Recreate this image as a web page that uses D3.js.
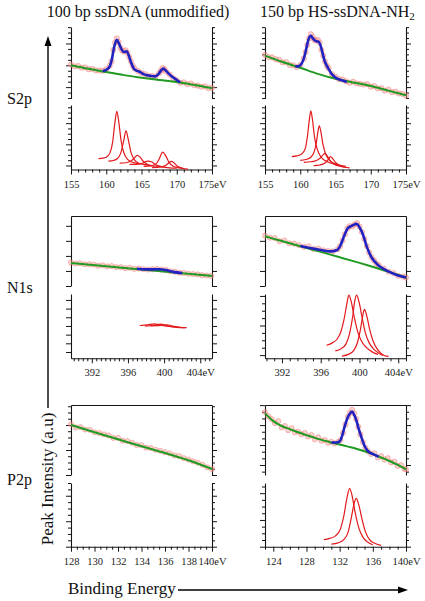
<!DOCTYPE html>
<html><head><meta charset="utf-8">
<script src="https://cdn.jsdelivr.net/npm/d3@7"></script>
<style>body{margin:0;background:#fff}svg{display:block}</style>
</head><body>
<svg id="c" width="425" height="601"></svg>
<script>
// ---------------- DATA ----------------
const columnTitles = ["100 bp ssDNA (unmodified)", "150 bp HS-ssDNA-NH"];
const titleSub = "2";
const rowLabels = ["S2p", "N1s", "P2p"];
const yAxisTitle = "Peak Intensity (a.u)";
const xAxisTitle = "Binding Energy";
const unit = "eV";

const s2pDomainA = [155, 175], s2pDomainB = [155, 175];
const s2pTicks = [155, 160, 165, 170, 175];
const n1sDomainA = [389.7, 405.3], n1sDomainB = [390.25, 404.8];
const n1sTicks = [392, 396, 400, 404];
const p2pDomainA = [128, 140], p2pDomainB = [123, 140];
const p2pTicksA = [128, 130, 132, 134, 136, 138, 140];
const p2pTicksB = [124, 128, 132, 136, 140];

// S2p, 100 bp
const s2pA_scatter = [[155,47.5],[155.5,45],[156,45.5],[156.5,43],[157,43.5],[157.5,41],[158,41.5],[158.5,39.5],[159,39],[159.5,39],[160,41],[160.5,46],[160.75,52],[161,68],[161.25,78],[161.5,84],[161.75,79],[162,71],[162.25,67],[162.5,66],[162.75,67.5],[163,64],[163.25,58],[163.5,52],[163.75,46],[164,42],[164.5,38.5],[165,35.5],[165.5,34],[166,31.5],[166.5,31.5],[167,30.5],[167.5,35.5],[167.75,39],[168,42.5],[168.25,41],[168.5,37.5],[169,33.5],[169.5,28.5],[170,25.5],[170.5,22],[171,22.5],[171.5,20],[172,21],[172.5,18.5],[173,18],[173.5,16.5],[174,17],[174.5,14.5],[175,15]];
const s2pA_fit = [[159.5,38.5],[160,40],[160.5,45],[160.8,55],[161.1,71],[161.5,82],[161.8,77],[162.1,70],[162.5,65],[162.9,66],[163.2,60],[163.5,51],[163.9,42],[164.4,38.5],[164.8,37],[165.3,34],[165.8,32.5],[166.4,31.5],[167,31],[167.4,34],[167.8,39.5],[168.1,41.8],[168.5,38.5],[168.9,34.5],[169.4,30],[169.8,27.5],[170.2,24.5],[170.5,22.5]];
const s2pA_bg = [[155,46.5],[157.5,41.5],[160,37],[162.5,32.7],[165,29],[167.5,25.8],[170,23],[172.5,19],[175,14.5]];
const s2pA_comps = [
  [[158.9,17],[159.5,17.5],[160,19],[160.5,25],[160.9,42],[161.2,70],[161.5,90],[161.8,72],[162.1,45],[162.5,26],[163,16],[163.5,12],[164.2,10],[165,8.5]],
  [[160.3,13],[161,14],[161.6,17],[162.1,27],[162.5,46],[162.8,60],[163.1,48],[163.5,27],[164,15],[164.6,10],[165.5,7.5],[166.5,6]],
  [[161.9,10],[162.8,10.5],[163.5,13],[164,18],[164.4,22],[164.8,19],[165.3,12],[166,7],[167,5],[168,4]],
  [[163.3,7.8],[164.3,8],[165.2,10],[165.7,12.5],[166,13],[166.4,12],[167,7.5],[167.8,4.5],[169,2.5],[170,2]],
  [[165.3,4.7],[166.3,5.5],[167,8],[167.5,16],[168,27],[168.4,22],[168.9,11],[169.5,5],[170.3,2.5],[171,1.5]],
  [[166.5,3],[167.5,3.5],[168.4,6],[168.9,10.5],[169.2,12.5],[169.6,10.5],[170.1,5],[170.8,2],[171.6,0.5]]
];

// S2p, 150 bp
const s2pB_scatter = [[155,61],[155.5,58],[156,57.5],[156.5,55],[157,54],[157.5,50.5],[158,51],[158.5,47],[159,46.5],[159.5,44],[160,47],[160.5,56],[160.75,65],[161,75],[161.25,84],[161.5,90],[161.75,86],[162,82],[162.25,81],[162.5,82],[162.75,78],[163,68],[163.25,60],[163.5,52],[163.75,46],[164,42.5],[164.5,34],[165,30.5],[165.5,27],[166,26.5],[166.5,24],[167,22],[167.5,23.5],[168,21],[168.5,20.5],[169,19.5],[169.5,20],[170,16.5],[170.5,17.5],[171,14],[171.5,14.5],[172,11],[172.5,12.5],[173,9],[173.5,9.5],[174,7],[174.5,6.5],[175,4]];
const s2pB_fit = [[159.3,45],[159.7,45],[160,46.5],[160.4,53],[160.7,63],[160.95,74],[161.15,82],[161.5,87.7],[161.8,84],[162,81.7],[162.3,80],[162.6,79.5],[162.85,75],[163.1,66],[163.4,54.5],[163.7,47],[164,41.8],[164.4,35],[164.9,30],[165.4,27],[165.9,25.4],[166.6,23]];
const s2pB_bg = [[155,60],[157.5,51],[160,43],[162.5,34.5],[165,27.5],[167.5,22.5],[170,17.5],[172.5,11],[175,4.5]];
const s2pB_comps = [
  [[158.8,20],[159.5,21],[160.2,24],[160.7,32],[161,50],[161.3,78],[161.5,91],[161.75,76],[162,52],[162.4,32],[162.9,20],[163.5,14],[164.3,10],[165.2,7.5]],
  [[160,14],[160.8,15.5],[161.5,19],[162,28],[162.3,43],[162.5,58],[162.7,67.7],[162.95,57],[163.2,40],[163.6,24],[164.1,15],[164.8,9.5],[165.7,6.5],[166.5,5]],
  [[160.5,11],[161.5,12],[162.3,14],[162.9,18.5],[163.3,23.5],[163.5,25],[163.8,21.5],[164.2,14],[164.8,8],[165.6,5],[166.5,3.5]],
  [[161.9,6],[162.8,7],[163.5,10],[164,16],[164.3,20],[164.6,17],[165,11],[165.6,6],[166.3,3.5],[167,2.5]]
];

// N1s, 100 bp
const n1sA_scatter = [[389.7,33.5],[390.2,32],[390.7,32.5],[391.2,31],[391.7,31],[392.2,30.5],[392.7,29],[393.2,29.5],[393.7,28],[394.2,28.5],[394.7,27],[395.2,27],[395.7,25.5],[396.2,26],[396.7,24.5],[397.2,25],[397.7,24],[398.2,23.5],[398.7,24],[399.2,24.5],[399.7,23.5],[400.2,23],[400.7,21],[401.2,20.5],[401.7,19],[402.2,18.5],[402.7,17.5],[403.2,17],[403.7,16.5],[404.2,15.5],[404.7,15],[405.2,14.5]];
const n1sA_fit = [[397,24.6],[398,23.8],[398.8,23.8],[399.5,24],[400.2,22.8],[401,20.2],[402,18.4]];
const n1sA_bg = [[389.7,33],[393.6,28.2],[397.5,23.6],[401.4,19],[405.3,14.3]];
const n1sA_comps = [
  [[397.3,51],[398.2,52],[398.9,53.5],[399.6,51.5],[400.5,49.5],[401.5,48.5]],
  [[397.9,50],[398.8,51],[399.6,53],[400.3,51],[401.2,48.5],[402.3,47.5]],
  [[398.5,50.5],[399.4,50.8],[400.3,52.2],[401,50],[401.8,48.2],[402.5,47.8]]
];

// N1s, 150 bp
const n1sB_scatter = [[390.25,72],[390.75,69],[391.25,68.5],[391.75,64],[392.25,65],[392.75,61],[393.25,60.5],[393.75,58.5],[394.25,56],[394.75,56.5],[395.25,53],[395.75,53.5],[396.25,51],[396.75,50],[397.25,49.5],[397.75,52.5],[398,57],[398.25,65],[398.5,74],[398.75,82],[399,85.5],[399.25,85],[399.5,88],[399.75,90],[400,85],[400.25,77],[400.5,67],[400.75,57],[401,48],[401.25,41],[401.5,36.5],[401.75,32],[402,29.5],[402.5,25],[403,20.5],[403.5,18.5],[404,14.5],[404.5,13.5],[404.8,12]];
const n1sB_fit = [[393.9,57],[395,54],[396,51.5],[397,49.5],[397.7,51.5],[398.1,60],[398.4,71],[398.8,82.6],[399.2,86],[399.7,88.7],[400,84],[400.3,75.6],[400.8,54.5],[401.2,42],[401.6,34.5],[402,29],[402.5,24.5],[403.2,19.5],[403.9,15.5],[404.8,12.2]];
const n1sB_bg = [[390.25,71],[391,68],[392,64.2],[393,60.3],[394,56.5],[395,52.6],[396,48.7],[397,44.8],[398,40.9],[399,37],[400,33],[401,28.9],[402,24.6],[403,20.2],[404,15.8],[404.8,12.2]];
const n1sB_comps = [
  [[396.6,20.3],[397.2,24],[397.7,30],[398.1,42],[398.4,60],[398.7,85],[398.9,98.4],[399.15,88],[399.45,65],[399.8,42],[400.2,27],[400.7,17],[401.3,10],[401.9,6]],
  [[397.5,11.5],[398.1,15],[398.6,22],[399,40],[399.3,65],[399.5,88],[399.7,98.4],[399.95,88],[400.25,65],[400.6,40],[401,24],[401.5,14],[402,8],[402.4,4.5]],
  [[398.2,3.5],[398.9,6.5],[399.4,12],[399.8,25],[400.1,45],[400.3,63],[400.5,76],[400.75,66],[401.05,45],[401.4,27],[401.8,15],[402.2,8],[402.6,4],[403,3]]
];

// P2p, 100 bp
const p2pA_scatter = [[128,72.5],[128.4,68],[128.8,68.5],[129.2,65],[129.6,64.5],[130,61],[130.4,60],[130.8,58],[131.2,56.5],[131.6,53],[132,53],[132.4,49],[132.8,48.5],[133.2,46],[133.6,43],[134,42.5],[134.4,39],[134.8,38.5],[135.2,36],[135.6,34.5],[136,32.5],[136.4,31],[136.8,28],[137.2,27],[137.6,24],[138,22],[138.4,19.5],[138.8,17.5],[139.2,14.5],[139.6,11],[140,8.5]];
const p2pA_fit = [];
const p2pA_bg = [[128,71.4],[130,61],[132,51],[134,41],[136,31.5],[138,21],[140,8.5]];
const p2pA_comps = [];

// P2p, 150 bp
const p2pB_scatter = [[123,90],[123.4,84],[123.8,80],[124.2,74],[124.6,77],[125,68],[125.4,70],[125.8,64],[126.2,67],[126.6,61],[127,62],[127.4,58],[127.8,60],[128.2,55],[128.6,57],[129,51],[129.4,54],[129.8,49],[130.2,50],[130.6,46],[131,47.5],[131.4,45],[131.8,47],[132.1,50],[132.4,60],[132.7,72],[133,83],[133.25,89],[133.5,93],[133.75,88],[134,80],[134.25,69],[134.5,58],[134.8,47],[135.1,39],[135.4,34],[135.8,30],[136.2,31],[136.6,25],[137,27],[137.4,22],[137.8,24],[138.2,18],[138.6,19],[139,13],[139.4,14],[139.8,9],[140,8]];
const p2pB_fit = [[131,46.5],[131.6,46.5],[132,48],[132.3,56],[132.6,69],[132.9,80],[133.2,87],[133.5,90.5],[133.75,86],[134,78.6],[134.3,66],[134.6,54.7],[134.95,43],[135.3,35.7],[135.7,31.5],[136.1,29.5],[136.7,26]];
const p2pB_bg = [[123,88],[124,77],[125,70],[126,65.5],[127,61],[128,57],[129,53],[130,49.5],[131,46.5],[132,43.5],[133,40.5],[134,37.5],[135,34],[136,30],[137,25],[138,20],[139,14.5],[140,8]];
const p2pB_comps = [
  [[130.1,11],[130.8,13],[131.5,17],[132.1,28],[132.5,48],[132.9,78],[133.2,91.7],[133.5,80],[133.85,55],[134.3,30],[134.8,15],[135.4,7],[136,3]],
  [[131,4],[131.8,6],[132.5,11],[133,22],[133.4,45],[133.75,68],[134,76],[134.3,66],[134.7,43],[135.1,24],[135.6,11],[136.3,5],[137,2]]
];

// ---------------- LAYOUT ----------------
const colX = [[71, 212], [265, 406]];
const rows = [
  {top: [27, 98.5], bot: [105, 169.5], border: false, labY: 104},
  {top: [216, 286], bot: [294, 358.3], border: true, labY: 293},
  {top: [405, 475], bot: [483, 546.7], border: true, labY: 485}
];
// y tick specs: [first, step, majorEvery, majorOffset]
const ySpec = [
  [{t: [0.65, 7.63, 4, 2], b: [6.25, 8.2, 4, 0]}, {t: [0.65, 7.63, 4, 2], b: [6.25, 8.2, 4, 0]}],
  [{t: [0, 21.5, 1, 0], b: [9.8, 13.5, 1, 0]}, {t: [0, 21.5, 1, 0], b: [5, 11.5, 4, 0]}],
  [{t: [0, 8.93, 4, 0], b: [0, 10, 4, 0]}, {t: [4.8, 9.5, 3, 1], b: [0, 10.5, 4, 0]}]
];

const panels = [
  {r: 0, c: 0, dom: s2pDomainA, ticks: s2pTicks, minor: 1, sc: s2pA_scatter, fit: s2pA_fit, bg: s2pA_bg, comps: s2pA_comps},
  {r: 0, c: 1, dom: s2pDomainB, ticks: s2pTicks, minor: 1, sc: s2pB_scatter, fit: s2pB_fit, bg: s2pB_bg, comps: s2pB_comps},
  {r: 1, c: 0, dom: n1sDomainA, ticks: n1sTicks, minor: 0.5, sc: n1sA_scatter, fit: n1sA_fit, bg: n1sA_bg, comps: n1sA_comps},
  {r: 1, c: 1, dom: n1sDomainB, ticks: n1sTicks, minor: 0.8, sc: n1sB_scatter, fit: n1sB_fit, bg: n1sB_bg, comps: n1sB_comps},
  {r: 2, c: 0, dom: p2pDomainA, ticks: p2pTicksA, minor: 0.5, sc: p2pA_scatter, fit: p2pA_fit, bg: p2pA_bg, comps: p2pA_comps},
  {r: 2, c: 1, dom: p2pDomainB, ticks: p2pTicksB, minor: 1, sc: p2pB_scatter, fit: p2pB_fit, bg: p2pB_bg, comps: p2pB_comps}
];

const FONT = "'Liberation Serif', 'Times New Roman', serif";
const AX = "#151515";
const svg = d3.select("#c");

function yTicks(y, x0, x1, g, spec) {
  const [first, step, k, off] = spec;
  const vals = d3.range(first, 100.01, step);
  const major = vals.filter((v, i) => i % k === off);
  const minor = vals.filter((v, i) => i % k !== off);
  [[d3.axisLeft, x0], [d3.axisRight, x1]].forEach(([ax, xp]) => {
    const a = g.append("g").attr("transform", `translate(${xp},0)`).attr("color", AX)
      .call(ax(y).tickValues(major).tickSize(5).tickSizeOuter(0).tickFormat(""));
    a.select(".domain").attr("stroke-width", 1.1);
    g.append("g").attr("transform", `translate(${xp},0)`).attr("color", AX)
      .call(ax(y).tickValues(minor).tickSize(3).tickSizeOuter(0).tickFormat(""))
      .select(".domain").remove();
  });
}

panels.forEach(p => {
  const R = rows[p.r];
  const [x0, x1] = colX[p.c];
  const spec = ySpec[p.r][p.c];
  const x = d3.scaleLinear().domain(p.dom).range([x0, x1]);
  const yT = d3.scaleLinear().domain([0, 100]).range([R.top[1], R.top[0]]);
  const yB = d3.scaleLinear().domain([0, 100]).range([R.bot[1], R.bot[0]]);
  const g = svg.append("g");

  yTicks(yT, x0, x1, g, spec.t);
  yTicks(yB, x0, x1, g, spec.b);
  if (R.border) {
    g.append("g").attr("transform", `translate(0,${R.top[0]})`).attr("color", AX)
      .call(d3.axisTop(x).tickValues([]).tickSizeOuter(0))
      .select(".domain").attr("stroke-width", 1.1);
  }
  const last = p.ticks[p.ticks.length - 1];
  const xa = g.append("g").attr("transform", `translate(0,${R.bot[1]})`).attr("color", AX)
    .call(d3.axisBottom(x).tickValues(p.ticks).tickSize(5).tickSizeOuter(0)
      .tickFormat(d => d === last ? d + unit : String(d)));
  xa.select(".domain").attr("stroke-width", 1.1);
  xa.selectAll("text").attr("y", 18).attr("dy", 0)
    .attr("font-family", FONT).attr("font-size", 10.5).attr("fill", "#222");
  const anchor = p.ticks[0];
  const minorVals = d3.range(Math.ceil((p.dom[0] - anchor) / p.minor - 1e-6), Math.floor((p.dom[1] - anchor) / p.minor + 1e-6) + 1)
    .map(i => anchor + i * p.minor)
    .filter(v => !p.ticks.some(t => Math.abs(t - v) < 1e-6));
  g.append("g").attr("transform", `translate(0,${R.bot[1]})`).attr("color", AX)
    .call(d3.axisBottom(x).tickValues(minorVals).tickSize(3).tickSizeOuter(0).tickFormat(""))
    .select(".domain").remove();

  const lineT = d3.line().x(d => x(d[0])).y(d => yT(d[1])).curve(d3.curveMonotoneX);
  g.append("g").selectAll("circle").data(p.sc).join("circle")
    .attr("cx", d => x(d[0])).attr("cy", d => yT(d[1])).attr("r", 2.6)
    .attr("fill", "#f6a29a").attr("fill-opacity", 0.45)
    .attr("stroke", "#ec6a66").attr("stroke-opacity", 0.6).attr("stroke-width", 0.7);
  g.append("path").datum(p.bg).attr("d", lineT)
    .attr("fill", "none").attr("stroke", "#1f9a22").attr("stroke-width", 2);
  if (p.fit.length) {
    g.append("path").datum(p.fit).attr("d", lineT)
      .attr("fill", "none").attr("stroke", "#2222c0").attr("stroke-width", 2.6)
      .attr("stroke-linejoin", "round");
  }
  const lineB = d3.line().x(d => x(d[0])).y(d => yB(d[1])).curve(d3.curveMonotoneX);
  g.append("g").selectAll("path").data(p.comps).join("path")
    .attr("d", lineB).attr("fill", "none").attr("stroke", "#e3191c").attr("stroke-width", 1.2);
});

svg.append("text").attr("x", 138).attr("y", 17).attr("text-anchor", "middle")
  .attr("font-family", FONT).attr("font-size", 16).attr("fill", "#111").text(columnTitles[0]);
const t2 = svg.append("text").attr("x", 260).attr("y", 17)
  .attr("font-family", FONT).attr("font-size", 16).attr("fill", "#111");
t2.append("tspan").text(columnTitles[1]);
t2.append("tspan").attr("font-size", 11).attr("dy", 3).text(titleSub);

rows.forEach((R, i) => {
  svg.append("text").attr("x", 7).attr("y", R.labY)
    .attr("font-family", FONT).attr("font-size", 16).attr("fill", "#111").text(rowLabels[i]);
});

svg.append("line").attr("x1", 48).attr("y1", 408).attr("x2", 48).attr("y2", 44)
  .attr("stroke", "#000").attr("stroke-width", 1.4);
svg.append("path").attr("d", "M48,36 L44.5,46 L51.5,46 Z").attr("fill", "#000");
svg.append("text").attr("transform", "translate(53,479) rotate(-90)").attr("text-anchor", "middle")
  .attr("font-family", FONT).attr("font-size", 17).attr("fill", "#111").text(yAxisTitle);

svg.append("text").attr("x", 68).attr("y", 594)
  .attr("font-family", FONT).attr("font-size", 17).attr("fill", "#111").text(xAxisTitle);
svg.append("line").attr("x1", 178).attr("y1", 590).attr("x2", 399).attr("y2", 590)
  .attr("stroke", "#000").attr("stroke-width", 1.4);
svg.append("path").attr("d", "M408,590 L398,586.5 L398,593.5 Z").attr("fill", "#000");
</script>
</body></html>
